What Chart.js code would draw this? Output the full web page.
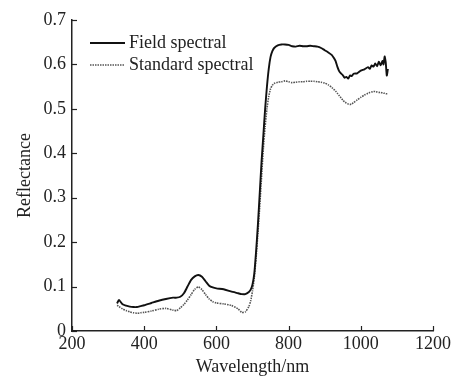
<!DOCTYPE html>
<html>
<head>
<meta charset="utf-8">
<script src="https://cdn.jsdelivr.net/npm/chart.js@4.4.1/dist/chart.umd.min.js"></script>
<style>
  html, body { margin: 0; padding: 0; background: #fff; }
  #wrap { width: 456px; height: 378px; }
</style>
</head>
<body>
<div id="wrap"><canvas id="spectra"></canvas></div>
<script>
// wavelengths (nm) shared by both curves
const wavelengths = [
  325, 330, 340, 350, 360, 370, 380, 390, 400, 420, 440, 460, 480, 490, 500,
  510, 520, 530, 540, 550, 560, 570, 580, 590, 600, 620, 640, 660, 670, 680,
  690, 695, 700, 705, 710, 715, 720, 725, 730, 735, 740, 745, 750, 755, 760,
  770, 780, 790, 800, 810, 820, 830, 840, 850, 860, 870, 880, 890, 900, 910,
  920, 925, 930, 935, 940, 945, 950, 955, 960, 965, 970, 975, 980, 990, 1000,
  1010, 1020, 1025, 1030, 1035, 1040, 1045, 1050, 1055, 1060, 1063, 1066, 1069, 1072, 1075
];

const fieldSpectral = [
  0.062, 0.070, 0.060, 0.057, 0.055, 0.054, 0.054, 0.056, 0.058, 0.063, 0.068, 0.072, 0.075, 0.075, 0.077,
  0.085, 0.100, 0.115, 0.123, 0.126, 0.122, 0.112, 0.102, 0.098, 0.096, 0.094, 0.089, 0.085, 0.083, 0.083,
  0.088, 0.093, 0.105, 0.130, 0.180, 0.240, 0.310, 0.380, 0.440, 0.500, 0.550, 0.590, 0.617, 0.630, 0.637,
  0.643, 0.645, 0.645, 0.644, 0.641, 0.640, 0.642, 0.641, 0.641, 0.642, 0.641, 0.640, 0.637, 0.632, 0.627,
  0.621, 0.615, 0.608, 0.595, 0.585, 0.580, 0.576, 0.570, 0.572, 0.568, 0.575, 0.574, 0.579, 0.580, 0.586,
  0.589, 0.594, 0.590, 0.598, 0.595, 0.602, 0.596, 0.606, 0.598, 0.608, 0.600, 0.618, 0.605, 0.575, 0.590
];

const standardSpectral = [
  0.058, 0.055, 0.050, 0.046, 0.043, 0.041, 0.040, 0.041, 0.042, 0.045, 0.049, 0.051, 0.047, 0.046, 0.052,
  0.060, 0.070, 0.082, 0.094, 0.099, 0.093, 0.082, 0.072, 0.066, 0.063, 0.061, 0.058, 0.050, 0.042, 0.043,
  0.055, 0.068, 0.090, 0.120, 0.165, 0.220, 0.280, 0.345, 0.410, 0.460, 0.500, 0.528, 0.545, 0.553, 0.557,
  0.560, 0.561, 0.563, 0.561, 0.559, 0.560, 0.561, 0.561, 0.562, 0.562, 0.562, 0.561, 0.560, 0.558, 0.554,
  0.548, 0.544, 0.540, 0.535, 0.530, 0.525, 0.520, 0.516, 0.513, 0.511, 0.510, 0.511, 0.514, 0.520, 0.526,
  0.531, 0.535, 0.537, 0.538, 0.539, 0.539, 0.538, 0.537, 0.537, 0.536, 0.535, 0.535, 0.534, 0.534, 0.534
];

const seriesNames = ["Field spectral", "Standard spectral"];

const FONT = "'Liberation Serif', 'Times New Roman', serif";
const INK = "#222";

const toPoints = (vals) => wavelengths.map((w, i) => ({ x: w, y: vals[i] }));

// little tick marks pointing into the plot, taken from the scale ticks
const innerTicks = {
  id: "innerTicks",
  afterDraw(chart) {
    const { ctx, chartArea, scales } = chart;
    ctx.save();
    ctx.strokeStyle = INK;
    ctx.lineWidth = 1.2;
    scales.x.ticks.forEach((t) => {
      const px = Math.round(scales.x.getPixelForValue(t.value)) + 0.5;
      ctx.beginPath();
      ctx.moveTo(px, chartArea.bottom);
      ctx.lineTo(px, chartArea.bottom - 5);
      ctx.stroke();
    });
    scales.y.ticks.forEach((t) => {
      const py = Math.round(scales.y.getPixelForValue(t.value)) + 0.5;
      ctx.beginPath();
      ctx.moveTo(chartArea.left, py);
      ctx.lineTo(chartArea.left + 5, py);
      ctx.stroke();
    });
    ctx.restore();
  }
};

// legend in the upper left of the plot
const insideLegend = {
  id: "insideLegend",
  afterDraw(chart) {
    const { ctx, chartArea } = chart;
    const x0 = chartArea.left + 18;
    let y = chartArea.top + 23;
    ctx.save();
    ctx.font = "18px " + FONT;
    ctx.textBaseline = "middle";
    chart.data.datasets.forEach((ds) => {
      ctx.strokeStyle = ds.borderColor;
      ctx.lineWidth = ds.borderWidth;
      ctx.setLineDash(ds.borderDash || []);
      ctx.beginPath();
      ctx.moveTo(x0, y);
      ctx.lineTo(x0 + 35, y);
      ctx.stroke();
      ctx.setLineDash([]);
      ctx.fillStyle = INK;
      ctx.fillText(ds.label, x0 + 39, y);
      y += 22;
    });
    ctx.restore();
  }
};

new Chart(document.getElementById("spectra"), {
  type: "line",
  data: {
    datasets: [
      {
        label: seriesNames[0],
        data: toPoints(fieldSpectral),
        borderColor: "#111",
        borderWidth: 1.9,
        pointRadius: 0,
        tension: 0.2
      },
      {
        label: seriesNames[1],
        data: toPoints(standardSpectral),
        borderColor: "#555",
        borderWidth: 1.6,
        borderDash: [1.5, 1],
        pointRadius: 0,
        tension: 0.2
      }
    ]
  },
  options: {
    responsive: true,
    maintainAspectRatio: false,
    animation: false,
    layout: { padding: { left: 10, top: 20, right: 23, bottom: 0 } },
    plugins: {
      legend: { display: false },
      tooltip: { enabled: false }
    },
    scales: {
      x: {
        type: "linear",
        min: 200,
        max: 1200,
        grid: { display: true, drawOnChartArea: false, drawTicks: false },
        border: { color: INK, width: 1.5 },
        ticks: {
          stepSize: 200,
          padding: 2,
          color: INK,
          font: { family: FONT, size: 18 },
          callback: (v) => String(v)
        },
        title: {
          display: true,
          text: "Wavelength/nm",
          color: INK,
          padding: { top: 0, bottom: 0 },
          font: { family: FONT, size: 18 }
        },
        afterFit: (scale) => { scale.height = 47; }
      },
      y: {
        min: 0,
        max: 0.7,
        grid: { display: true, drawOnChartArea: false, drawTicks: false },
        border: { color: INK, width: 1.5 },
        ticks: { stepSize: 0.1, padding: 6, color: INK, font: { family: FONT, size: 18 } },
        title: {
          display: true,
          text: "Reflectance",
          color: INK,
          padding: { top: 4, bottom: 0 },
          font: { family: FONT, size: 18 }
        },
        afterFit: (scale) => { scale.width = 62; }
      }
    }
  },
  plugins: [innerTicks, insideLegend]
});
</script>
</body>
</html>
